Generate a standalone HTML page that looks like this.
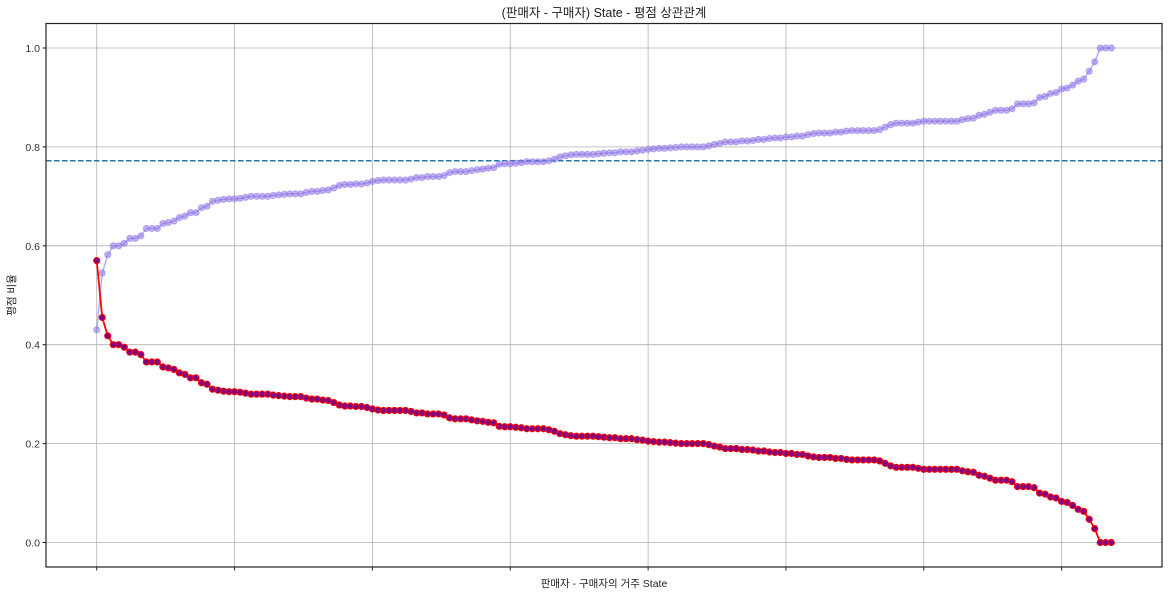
<!DOCTYPE html>
<html><head><meta charset="utf-8">
<style>
html,body{margin:0;padding:0;background:#fff;}
svg{display:block;font-family:"Liberation Sans","Noto Sans CJK KR",sans-serif;}
</style></head>
<body>
<svg id="chart" width="1173" height="596" viewBox="0 0 1173 596">
<rect x="0" y="0" width="1173" height="596" fill="#fff"/>
<text x="604" y="17" text-anchor="middle" font-size="12.5" fill="#222">(판매자 - 구매자) State - 평점 상관관계</text>
<g id="grid"></g>
<g id="series"></g>
<rect x="46" y="23.5" width="1116" height="543.5" fill="none" stroke="#222" stroke-width="1.2"/>
<g id="axes"></g>
<text x="604" y="587" text-anchor="middle" font-size="10.5" fill="#222">판매자 - 구매자의 거주 State</text>
<text x="15" y="295" text-anchor="middle" font-size="10.5" fill="#222" transform="rotate(-90 15 295)">평점 비율</text>
</svg>
<script>
const highRatio = [.43,.545,.582,.60,.60,.605,.615,.615,.62,.635,.635,.635,.645,.647,.65,.657,.66,.667,.667,.677,.68,.69,.692,.694,.695,
.695,.696,.698,.70,.70,.70,.70,.702,.703,.704,.705,.705,.705,.708,.71,.71,.712,.713,.717,.722,.724,.724,.725,.725,.727,
.73,.732,.733,.733,.733,.733,.733,.735,.738,.738,.74,.74,.74,.742,.748,.75,.75,.75,.752,.754,.755,.757,.758,.765,.766,
.766,.767,.768,.77,.77,.77,.77,.772,.775,.78,.782,.784,.785,.785,.785,.785,.786,.787,.788,.788,.79,.79,.79,.792,.793,
.795,.796,.797,.797,.798,.799,.8,.8,.8,.8,.8,.802,.805,.807,.81,.81,.81,.812,.812,.813,.815,.815,.817,.818,.818,
.82,.82,.822,.822,.825,.827,.828,.828,.828,.83,.83,.832,.833,.833,.833,.833,.833,.835,.84,.845,.848,.848,.848,.848,.85,
.852,.852,.852,.852,.852,.852,.852,.855,.857,.858,.864,.866,.87,.874,.874,.874,.877,.887,.887,.887,.889,.9,.902,.908,.91,.917,
.919,.925,.933,.937,.953,.972,1,1,1];
const lowRatio = [.57,.455,.418,.40,.40,.395,.385,.385,.38,.365,.365,.365,.355,.353,.35,.343,.34,.333,.333,.323,.32,.31,.308,.306,.305,
.305,.304,.302,.30,.30,.30,.30,.298,.297,.296,.295,.295,.295,.292,.29,.29,.288,.287,.283,.278,.276,.276,.275,.275,.273,
.27,.268,.267,.267,.267,.267,.267,.265,.262,.262,.26,.26,.26,.258,.252,.25,.25,.25,.248,.246,.245,.243,.242,.235,.234,
.234,.233,.232,.23,.23,.23,.23,.228,.225,.22,.218,.216,.215,.215,.215,.215,.214,.213,.212,.212,.21,.21,.21,.208,.207,
.205,.204,.203,.203,.202,.201,.2,.2,.2,.2,.2,.198,.195,.193,.19,.19,.19,.188,.188,.187,.185,.185,.183,.182,.182,
.18,.18,.178,.178,.175,.173,.172,.172,.172,.17,.17,.168,.167,.167,.167,.167,.167,.165,.16,.155,.152,.152,.152,.152,.15,
.148,.148,.148,.148,.148,.148,.148,.145,.143,.142,.136,.134,.13,.126,.126,.126,.123,.113,.113,.113,.111,.1,.098,.092,.09,.083,
.081,.075,.067,.063,.047,.028,0,0,0];
const meanLine = [0.772];
const yTicks = [0.0,0.2,0.4,0.6,0.8,1.0];
const yTickLabels = ["0.0","0.2","0.4","0.6","0.8","1.0"];
const xTicks = [0,25,50,75,100,125,150,175];

const NS="http://www.w3.org/2000/svg";
const n = highRatio.length;
const L=46,R=1162,T=23.5,B=567;
const pad=(n-1)*0.05;
function xs(i){return L+(i+pad)/((n-1)+2*pad)*(R-L);}
function ys(v){return 542.5-v*(542.5-48);}
function mk(tag,attrs,parent){const e=document.createElementNS(NS,tag);for(const k in attrs)e.setAttribute(k,attrs[k]);parent.appendChild(e);return e;}
const grid=document.getElementById('grid'),axes=document.getElementById('axes'),series=document.getElementById('series');

yTicks.forEach((t,k)=>{
  const y=ys(t);
  const g=mk('line',{x1:L,x2:R,y1:y,y2:y,stroke:'#b0b0b0','stroke-width':0.8},grid);
  
  
  const tk=mk('line',{x1:L-3.5,x2:L,y1:y,y2:y,stroke:'#222','stroke-width':1},axes);
  
  
  const tx=mk('text',{x:L-6,y:y+4,'text-anchor':'end','font-size':'10.5',fill:'#333'},axes);
  tx.textContent=yTickLabels[k];
  
  
});
xTicks.forEach(t=>{
  const x=xs(t);
  const g=mk('line',{x1:x,x2:x,y1:T,y2:B,stroke:'#b0b0b0','stroke-width':0.8},grid);
  
  
  const tk=mk('line',{x1:x,x2:x,y1:B,y2:B+3.5,stroke:'#222','stroke-width':1},axes);
  
  
});

const ml=mk('line',{x1:L,x2:R,y1:ys(meanLine[0]),y2:ys(meanLine[0]),stroke:'#1f77b4','stroke-width':1.5,'stroke-dasharray':'5.5,2.5'},series);



function drawSeries(vals,lineColor,lineW,lineOp,fill,fillOp,stroke,name){
  const pts=vals.map((v,i)=>xs(i).toFixed(2)+','+ys(v).toFixed(2)).join(' ');
  const pl=mk('polyline',{points:pts,fill:'none',stroke:lineColor,'stroke-width':lineW,'stroke-opacity':lineOp},series);
  
  
  vals.forEach((v,i)=>{
    const c=mk('circle',{cx:xs(i),cy:ys(v),r:3.1,fill:fill,'fill-opacity':fillOp,stroke:stroke,'stroke-width':1,'stroke-opacity':fillOp},series);
    
    
  });
}
drawSeries(highRatio,'#8f8fff',1.5,0.7,'#9370db',0.55,'#8a7af0','high-rating');
drawSeries(lowRatio,'#ff0000',1.8,1,'#800080',1,'#ff0000','low-rating');
</script>
</body></html>
